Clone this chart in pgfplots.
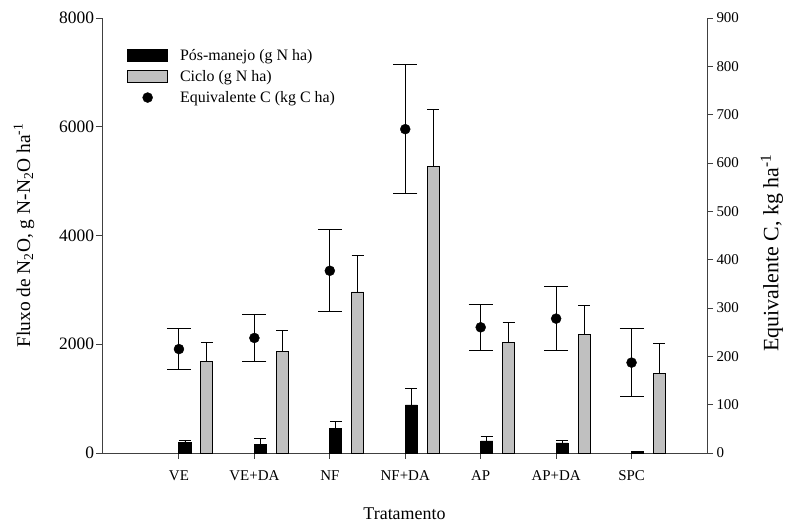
\documentclass[border=0pt]{standalone}
\usepackage{fontspec}
\setmainfont{Liberation Serif}
\usepackage{pgfplots}
\usepackage{pgfplotstable}
\pgfplotsset{compat=1.18}
\pgfplotstableread{
x     y     e
1.08  190   43
2.08  165   105
3.08  447   129
4.08  883   312
5.08  221   79
6.08  184   49
7.08  22    0
}\posmanejo
\pgfplotstableread{
x     y     e
1.37  1686  342
2.37  1870  379
3.37  2961  675
4.37  5278  1043
5.37  2041  368
6.37  2183  530
7.37  1458  552
}\ciclo
\pgfplotstableread{
x  y    e
1  215  43
2  238  48
3  377  85
4  670  133
5  260  47
6  278  66
7  187  70
}\equiv
\definecolor{bargray}{RGB}{192,192,192}
\begin{document}
\begin{tikzpicture}
\pgfplotsset{
  common/.style={
    scale only axis, width=605bp, height=435bp,
    xmin=-0.02, xmax=8,
    tick align=outside, major tick length=6bp,
    tick style={black!75, line width=0.9bp},
    axis line style={black!75, line width=0.9bp},
    ticklabel style={font=\fontsize{15}{18}\selectfont},
    /pgf/number format/assume math mode=true,
    /pgf/number format/set thousands separator={},
    scaled ticks=false,
    clip=false,
  }
}
\begin{axis}[common, name=ax,
  axis x line*=bottom, axis y line*=left,
  ymin=0, ymax=8000, ytick={0,2000,4000,6000,8000},
  yticklabel style={font=\fontsize{17.5}{20}\selectfont, xshift=1.5bp},
  xtick={1,2,3,4,5,6,7}, xticklabels={VE,VE+DA,NF,NF+DA,AP,AP+DA,SPC},
  xticklabel style={yshift=-8bp},
  xlabel={Tratamento},
  ylabel={Fluxo de N\textsubscript{2}O, g N-N\textsubscript{2}O ha\textsuperscript{-1}},
  xlabel style={font=\fontsize{18}{20}\selectfont, at={(axis description cs:0.5,-0.14)}, anchor=center},
  ylabel style={font=\fontsize{19.5}{22}\selectfont, at={(axis description cs:-0.129,0.5)}, anchor=center, rotate=0},
  legend style={draw=none, fill=none, at={(0,1)}, anchor=north west, xshift=23bp, yshift=-27bp,
    font=\fontsize{16}{18}\selectfont, row sep=4.5bp, inner sep=2bp},
  legend cell align=left,
]
\addplot[ybar, bar width=0.16, bar shift=0pt, fill=black, draw=black, line width=0.9bp,
  legend image code/.code={\draw[fill=black, draw=black, line width=0.9bp] (0bp,-6bp) rectangle (40bp,6bp); \path (50bp,0bp);},
  error bars/.cd, y dir=plus, y explicit,
  error bar style={black, line width=0.9bp},
  error mark options={rotate=90, mark size=6bp, line width=0.9bp, black}]
  table[x=x, y=y, y error=e] {\posmanejo};
\addlegendentry{Pós-manejo (g N ha)}
\addplot[ybar, bar width=0.16, bar shift=0pt, fill=bargray, draw=black, line width=0.9bp,
  legend image code/.code={\draw[fill=bargray, draw=black, line width=0.9bp] (0bp,-6bp) rectangle (40bp,6bp); \path (50bp,0bp);},
  error bars/.cd, y dir=plus, y explicit,
  error bar style={black, line width=0.9bp},
  error mark options={rotate=90, mark size=6bp, line width=0.9bp, black}]
  table[x=x, y=y, y error=e] {\ciclo};
\addlegendentry{Ciclo (g N ha)}
\addlegendimage{legend image code/.code={\fill[black] (20bp,0bp) circle (5bp); \path (50bp,0bp);}}
\addlegendentry{Equivalente C (kg C ha)}
\end{axis}
\begin{axis}[common,
  axis y line*=right, axis x line=none,
  ymin=0, ymax=900, ytick={0,100,...,900},
  ylabel={Equivalente C, kg ha\textsuperscript{-1}},
  ylabel style={font=\fontsize{22}{24}\selectfont, at={(axis description cs:1.1074,0.46)}, anchor=center, rotate=0},
]
\addplot[only marks, mark=*, mark size=5bp, black,
  error bars/.cd, y dir=both, y explicit,
  error bar style={black, line width=0.9bp},
  error mark options={rotate=90, mark size=12bp, line width=0.9bp, black}]
  table[x=x, y=y, y error=e] {\equiv};
\end{axis}
\pgfresetboundingbox
\path[use as bounding box] ([xshift=-102bp,yshift=-70bp]ax.south west) rectangle ([xshift=81bp,yshift=18bp]ax.north east);
\end{tikzpicture}
\end{document}
